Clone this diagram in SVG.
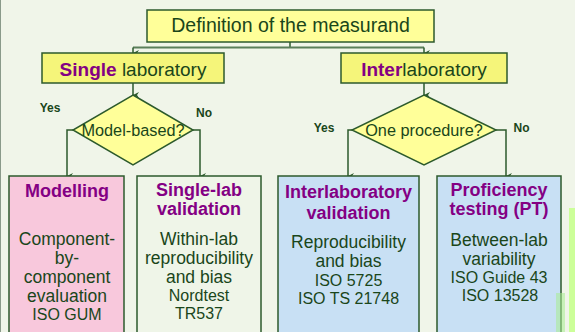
<svg xmlns="http://www.w3.org/2000/svg" width="575" height="332" viewBox="0 0 575 332">
<style>
text{font-family:"Liberation Sans",Arial,sans-serif;fill:#1a461a;text-anchor:middle}
.box{stroke:#2c5a2c;stroke-width:1.5}
.ttl{font-size:19.5px}
.mid{font-size:19px}
.q{font-size:16.3px}
.yn{font-size:12px;font-weight:bold}
.hd{font-size:18px;font-weight:bold;fill:#840084}
.pu{fill:#840084;font-weight:bold}
.bd{font-size:17.5px}
.rf{font-size:16px}
.ln{fill:none;stroke:#2c5a2c;stroke-width:1.5}
</style>
<defs>
<marker id="ar" markerWidth="6" markerHeight="6" refX="3" refY="6" orient="auto-start-reverse" markerUnits="userSpaceOnUse" viewBox="0 0 6 6">
<path d="M0,0 L3,2 L6,0 L3,6 Z" fill="#2c5a2c"/>
</marker>
</defs>
<rect x="0" y="0" width="575" height="332" fill="#f0f5e9"/>
<line x1="0.5" y1="0" x2="0.5" y2="332" stroke="#8a9a8a" stroke-width="1"/>
<g id="connectors">
<line x1="290" y1="42" x2="290" y2="47.5" class="ln"/>
<line x1="133" y1="47.5" x2="424" y2="47.5" stroke="#5a7f5a" stroke-width="2"/>
<line x1="133" y1="47.5" x2="133" y2="53" class="ln" marker-end="url(#ar)"/>
<line x1="424" y1="47.5" x2="424" y2="53" class="ln" marker-end="url(#ar)"/>
<line x1="133" y1="83" x2="133" y2="95" class="ln" marker-end="url(#ar)"/>
<line x1="424" y1="83" x2="424" y2="95" class="ln" marker-end="url(#ar)"/>
<polyline points="73,130 67,130 67,176" class="ln" marker-end="url(#ar)"/>
<polyline points="193,130 200,130 200,176" class="ln" marker-end="url(#ar)"/>
<polyline points="352,130 348,130 348,176" class="ln" marker-end="url(#ar)"/>
<polyline points="496,130 506,130 506,176" class="ln" marker-end="url(#ar)"/>
</g>
<g id="definition">
<rect x="147" y="10" width="287" height="32" fill="#ffff99" class="box"/>
<text x="290.5" y="32" class="ttl">Definition of the measurand</text>
</g>
<g id="single">
<rect x="42" y="53" width="182" height="30" fill="#f5f57a" class="box"/>
<text x="133" y="76" class="mid"><tspan class="pu">Single</tspan> laboratory</text>
</g>
<g id="inter">
<rect x="341" y="53" width="166" height="30" fill="#f5f57a" class="box"/>
<text x="424" y="76" class="mid"><tspan class="pu">Inter</tspan>laboratory</text>
</g>
<g id="model-based">
<polygon points="133,95 193,130 133,165 73,130" fill="#ffff99" class="box"/>
<text x="133" y="136" class="q">Model-based?</text>
<text x="50" y="112" class="yn">Yes</text>
<text x="204" y="117" class="yn">No</text>
</g>
<g id="one-procedure">
<polygon points="424,95 496,130 424,165 352,130" fill="#ffff99" class="box"/>
<text x="424" y="136" class="q">One procedure?</text>
<text x="324" y="132" class="yn">Yes</text>
<text x="521.5" y="132" class="yn">No</text>
</g>
<g id="modelling">
<rect x="9" y="176" width="115" height="170" fill="#f8c8dc" class="box"/>
<text x="67" y="197" class="hd">Modelling</text>
<text x="67" y="245" class="bd">Component-</text>
<text x="67" y="264" class="bd">by-</text>
<text x="67" y="283" class="bd">component</text>
<text x="67" y="302" class="bd">evaluation</text>
<text x="67" y="320" class="rf">ISO GUM</text>
</g>
<g id="single-lab-validation">
<rect x="137" y="176" width="124" height="170" fill="#eff5e8" class="box"/>
<text x="199" y="196" class="hd">Single-lab</text>
<text x="199" y="215" class="hd">validation</text>
<text x="199" y="245" class="bd">Within-lab</text>
<text x="199" y="264" class="bd">reproducibility</text>
<text x="199" y="283" class="bd">and bias</text>
<text x="199" y="301" class="rf">Nordtest</text>
<text x="199" y="319" class="rf">TR537</text>
</g>
<g id="interlaboratory-validation">
<rect x="278" y="176" width="141" height="170" fill="#c8e0f4" class="box"/>
<text x="348.5" y="198" class="hd">Interlaboratory</text>
<text x="348.5" y="219" class="hd">validation</text>
<text x="348.5" y="248" class="bd">Reproducibility</text>
<text x="348.5" y="267" class="bd">and bias</text>
<text x="348.5" y="286" class="rf">ISO 5725</text>
<text x="348.5" y="304" class="rf">ISO TS 21748</text>
</g>
<g id="proficiency-testing">
<rect x="437" y="176" width="124" height="170" fill="#c8e0f4" class="box"/>
<text x="499" y="196" class="hd">Proficiency</text>
<text x="499" y="215" class="hd">testing (PT)</text>
<text x="499" y="246" class="bd">Between-lab</text>
<text x="499" y="265" class="bd">variability</text>
<text x="499" y="283" class="rf">ISO Guide 43</text>
<text x="500" y="301" class="rf">ISO 13528</text>
</g>
<rect x="556" y="293" width="9" height="39" fill="#a8ec90" opacity="0.55"/>
<rect x="569" y="208" width="6" height="124" fill="#ccff99"/>
</svg>
